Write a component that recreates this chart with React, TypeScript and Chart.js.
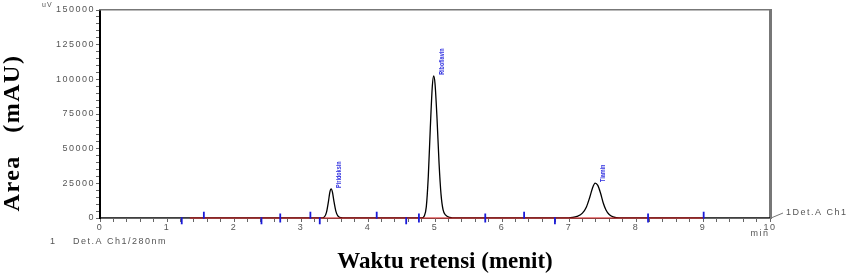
import React, { useEffect, useRef } from "react";
import { Chart, registerables } from "chart.js";

Chart.register(...registerables);

// Chromatogram trace (time in min, signal in uV)
const traceTimes = [0, 3.30, 3.35, 3.38, 3.41, 3.43, 3.45, 3.47, 3.49, 3.52, 3.55, 3.60, 3.65,
  4.80, 4.84, 4.87, 4.90, 4.93, 4.96, 4.98, 5.00, 5.03, 5.06, 5.09, 5.12, 5.16, 5.22, 5.30,
  6.95, 7.05, 7.12, 7.20, 7.26, 7.31, 7.35, 7.39, 7.43, 7.47, 7.51, 7.55, 7.60, 7.66, 7.75, 10];
const traceValues = [0, 0, 800, 4000, 12000, 18500, 21000, 18500, 12500, 5000, 1500, 200, 0,
  0, 1500, 8000, 30000, 65000, 95000, 102500, 97000, 72000, 40000, 17000, 6000, 2000, 500, 0,
  0, 400, 1200, 3500, 8000, 15000, 21500, 25200, 23500, 18000, 11000, 6000, 2500, 800, 0, 0];

// Peak labels
const peakNames = ["Piridoksin", "Riboflavin", "Tiamin"];
const peakTimes = [3.45, 4.98, 7.39];
const peakHeights = [21000, 102500, 25200];

// Integration baseline
const baselineTimes = [1.34, 9.0];

// Integration event markers (1 = up, -1 = down, 0 = both)
const markerTimes = [1.22, 1.55, 2.41, 2.69, 3.14, 3.28, 4.13, 4.57, 4.76, 5.75, 6.33, 6.79, 8.18, 9.01];
const markerDirs = [-1, 1, -1, 0, 1, -1, 1, -1, 0, 0, 1, -1, 0, 1];

// Axis ticks
const yMajorTicks = [0, 25000, 50000, 75000, 100000, 125000, 150000];
const xTickLabels = ["0", "1", "2", "3", "4", "5", "6", "7", "8", "9", "10"];

const SANS = "'Liberation Sans', Arial, sans-serif";
const SERIF = "'Liberation Serif', 'Times New Roman', serif";

const textPlugin = {
  id: "texts",
  beforeDraw(chart: any) {
    (chart.ctx as any).letterSpacing = "1.5px";
  },
  afterDraw(chart: any) {
    const ctx = chart.ctx as any;
    const xs = chart.scales.x;
    const ys = chart.scales.y;
    ctx.save();
    // peak labels
    ctx.letterSpacing = "0px";
    ctx.fillStyle = "#3030e0";
    ctx.font = `bold 7px ${SANS}`;
    ctx.textAlign = "left";
    ctx.textBaseline = "middle";
    peakNames.forEach((name: string, i: number) => {
      const px = xs.getPixelForValue(peakTimes[i]) + 8;
      const py = ys.getPixelForValue(peakHeights[i]) - 1;
      ctx.save();
      ctx.translate(px, py);
      ctx.rotate(-Math.PI / 2);
      ctx.scale(0.78, 1);
      ctx.fillText(name, 0, 0);
      ctx.restore();
    });
    // small texts
    ctx.fillStyle = "#555";
    ctx.letterSpacing = "1px";
    ctx.font = `7px ${SANS}`;
    ctx.textAlign = "left";
    ctx.fillText("uV", 42, 5);
    ctx.letterSpacing = "1.5px";
    ctx.font = `9px ${SANS}`;
    ctx.textAlign = "center";
    ctx.fillText("min", 760, 234);
    ctx.textAlign = "left";
    ctx.fillText("1Det.A Ch1", 786, 213);
    ctx.fillText("1", 50, 242);
    ctx.fillText("Det.A Ch1/280nm", 73, 242);
    ctx.strokeStyle = "#777";
    ctx.lineWidth = 1;
    ctx.beginPath();
    ctx.moveTo(xs.right + 1, ys.bottom);
    ctx.lineTo(xs.right + 13, ys.bottom - 5);
    ctx.stroke();
    // axis titles
    ctx.letterSpacing = "0px";
    ctx.fillStyle = "#000";
    ctx.font = `bold 23px ${SERIF}`;
    ctx.textAlign = "center";
    ctx.fillText("Waktu retensi (menit)", 445, 262);
    ctx.save();
    ctx.translate(13, 133);
    ctx.rotate(-Math.PI / 2);
    ctx.letterSpacing = "1.5px";
    ctx.font = `bold 24px ${SERIF}`;
    ctx.fillText("Area   (mAU)", 0, 0);
    ctx.restore();
    ctx.restore();
  },
};

export default function App() {
  const ref = useRef<HTMLCanvasElement | null>(null);
  useEffect(() => {
    if (!ref.current) return;
    const chart = new Chart(ref.current, {
      type: "line",
      data: {
        datasets: [
          {
            label: "markers",
            type: "scatter",
            data: markerTimes.map((t, i) => ({ x: t, y: markerDirs[i] * 2000 })),
            pointStyle: "line",
            rotation: 90,
            radius: markerTimes.map((_, i) => (markerDirs[i] === 0 ? 4.5 : 3.5)),
            borderColor: "#1a1ad8",
            backgroundColor: "#1a1ad8",
            borderWidth: 1.8,
            clip: false,
            order: 0,
          } as any,
          {
            label: "baseline",
            data: baselineTimes.map((t) => ({ x: t, y: 0 })),
            borderColor: "#d01010",
            borderWidth: 1.2,
            pointRadius: 0,
            clip: false,
            order: 1,
          } as any,
          {
            label: "trace",
            data: traceTimes.map((t, i) => ({ x: t, y: traceValues[i] })),
            borderColor: "#000",
            borderWidth: 1.3,
            pointRadius: 0,
            cubicInterpolationMode: "monotone",
            fill: false,
            order: 2,
          } as any,
        ],
      },
      options: {
        animation: false,
        responsive: false,
        events: [],
        layout: { padding: 0 },
        plugins: { legend: { display: false }, tooltip: { enabled: false } },
        scales: {
          x: {
            type: "linear",
            min: 0,
            max: 10,
            afterFit: (s: any) => { s.height = 57; },
            border: { display: true, color: "#666", width: 1 },
            grid: { display: true, drawOnChartArea: false, drawTicks: true, tickLength: 4, color: "#666" },
            ticks: {
              stepSize: 0.2,
              autoSkip: false,
              maxRotation: 0,
              padding: 0,
              color: "#555",
              font: { family: SANS, size: 9 },
              callback: (v: any) => {
                const n = Number(v);
                const r = Math.round(n);
                return Math.abs(n - r) < 1e-6 ? xTickLabels[r] : "";
              },
            },
          },
          y: {
            type: "linear",
            min: 0,
            max: 150000,
            afterFit: (s: any) => { s.width = 100; },
            border: { display: true, color: "#000", width: 2 },
            grid: { display: true, drawOnChartArea: false, drawTicks: true, tickLength: 4, color: "#666" },
            ticks: {
              stepSize: 5000,
              autoSkip: false,
              maxTicksLimit: 100,
              padding: 1,
              color: "#555",
              font: { family: SANS, size: 9 },
              callback: (v: any) => (yMajorTicks.includes(Number(v)) ? String(v) : ""),
            },
          },
          xTop: {
            type: "linear",
            position: "top",
            min: 0,
            max: 10,
            afterFit: (s: any) => { s.height = 10; },
            border: { display: true, color: "#777", width: 1.5 },
            grid: { display: false },
            ticks: { display: false },
          },
          yRight: {
            type: "linear",
            position: "right",
            min: 0,
            max: 150000,
            afterFit: (s: any) => { s.width = 90; },
            border: { display: true, color: "#777", width: 3 },
            grid: { display: false },
            ticks: { display: false },
          },
        },
      } as any,
      plugins: [textPlugin],
    });
    return () => chart.destroy();
  }, []);
  return (
    <div style={{ position: "fixed", left: 0, top: 0, width: 860, height: 275, background: "#fff" }}>
      <canvas ref={ref} width={860} height={275} />
    </div>
  );
}
